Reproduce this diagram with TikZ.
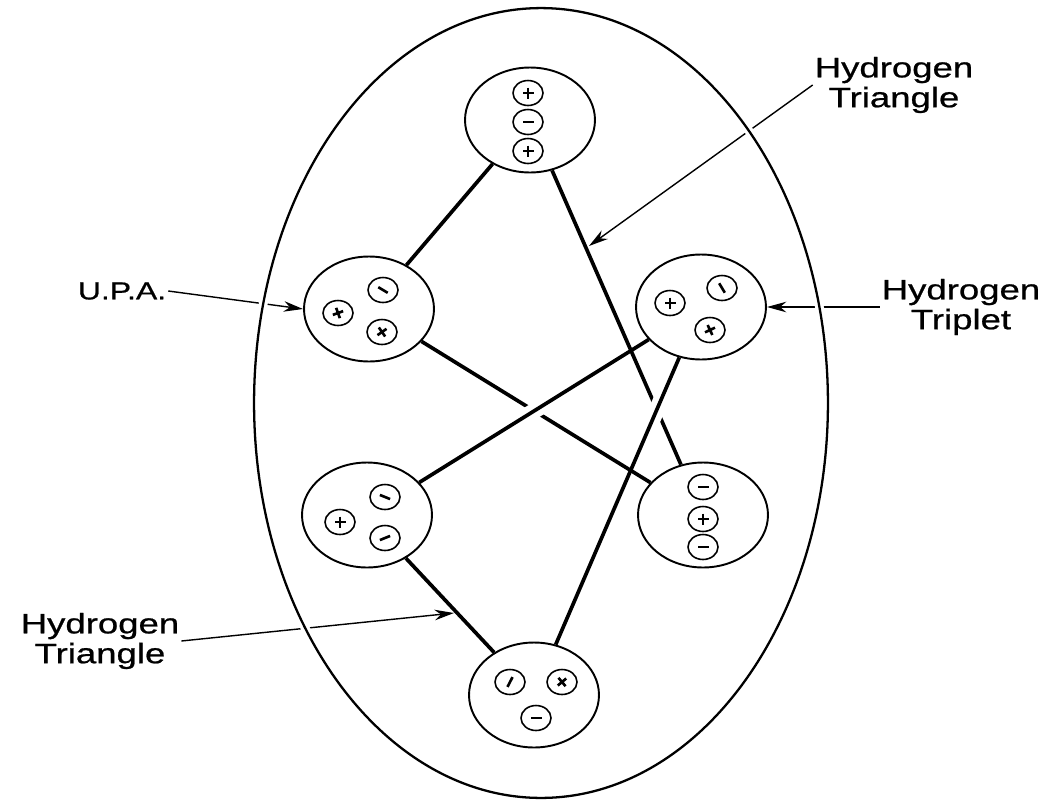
\documentclass[tikz,border=0pt]{standalone}
\usepackage{fontspec}
\newfontfamily\lblfont[FakeStretch=1.3, FakeBold=0.8]{Liberation Sans}
\usetikzlibrary{shapes.geometric,arrows.meta,backgrounds,calc}

\tikzset{
  atom/.style={ellipse, draw, line width=1.1pt, fill=white,
    minimum width=2.6cm, minimum height=2.1cm, inner sep=0pt},
  chg/.style={ellipse, draw, line width=0.9pt,
    minimum width=0.6cm, minimum height=0.5cm, inner sep=0pt},
  sign/.style={line width=1.5pt},
  pchg/.style={chg, path picture={
      \draw[sign] ([shift={(#1:0.11cm)}]path picture bounding box.center)
        -- ([shift={(#1+180:0.11cm)}]path picture bounding box.center);
      \draw[sign] ([shift={(#1+90:0.11cm)}]path picture bounding box.center)
        -- ([shift={(#1+270:0.11cm)}]path picture bounding box.center);}},
  pchg/.default=0,
  nchg/.style={chg, path picture={
      \draw[sign] ([shift={(#1:0.11cm)}]path picture bounding box.center)
        -- ([shift={(#1+180:0.11cm)}]path picture bounding box.center);}},
  nchg/.default=0,
  bond/.style={line width=2.1pt},
  over/.style={draw=white, line width=9pt},
  note/.style={line width=0.8pt, -{Stealth[length=11pt, width=6pt, inset=3.5pt]}},
  lbl/.style={font=\lblfont\fontsize{16}{17}\selectfont, align=center, inner sep=1pt}
}

\begin{document}
\begin{tikzpicture}[x=0.02cm, y=-0.02cm]
\useasboundingbox (0,0) rectangle (1046,802);
% cell wall
\draw[line width=1.3pt, preaction={draw=white, line width=5pt}]
  (541,403) ellipse [x radius=5.74cm, y radius=7.9cm];

\node[atom] (top) at (530,120) {};
\node[atom] (ul) at (369,309) {};
\node[atom] (ur) at (701,307) {};
\node[atom] (ll) at (367,515) {};
\node[atom] (lr) at (703,515) {};
\node[atom] (bot) at (534,695) {};

% charges
\node[pchg] (t1) at (528,93) {};
\node[nchg] (t2) at (528,122) {};
\node[pchg] (t3) at (528,151) {};
\node[nchg=-31] (a1) at (383,290) {};
\node[pchg=20] (a2) at (338,313) {};
\node[pchg=35] (a3) at (382,332) {};
\node[pchg] (b1) at (670,303) {};
\node[nchg=-59] (b2) at (722,288) {};
\node[pchg=25] (b3) at (710,330) {};
\node[nchg=-22] (c1) at (385,497) {};
\node[pchg] (c2) at (340,522) {};
\node[nchg=22] (c3) at (385,538) {};
\node[nchg] (d1) at (703,487) {};
\node[pchg] (d2) at (703,519) {};
\node[nchg] (d3) at (703,547) {};
\node[nchg=63] (e1) at (510,682) {};
\node[pchg=40] (e2) at (562,682) {};
\node[nchg] (e3) at (536,718) {};

\node[lbl] (htop) at (894,85) {Hydrogen\\Triangle};
\node[lbl, font=\lblfont\fontsize{14}{16}\selectfont] (upa) at (122,291) {U.P.A.};
\node[lbl] (htrip) at (961,307) {Hydrogen\\Triplet};
\node[lbl] (hbot) at (100,641) {Hydrogen\\Triangle};
\coordinate (toptip) at (589,246);
\coordinate (bottip) at (454,613);

\begin{scope}[on background layer]
\draw[bond] (top) -- (ul);
\draw[bond] (top) -- (lr);
\draw[bond] (ul) -- (lr);
\draw[bond] (ll.-48) -- (bot);
\draw[over] ($(ur)!0.36!(ll)$) -- ($(ur)!0.64!(ll)$);
\draw[bond] (ur) -- (ll);
\draw[over] ($(ur)!0.2!(bot)$) -- ($(ur)!0.33!(bot)$);
\draw[bond] (ur) -- (bot);
\draw[note] (htop.west) -- (toptip);
\draw[note] (upa.east) -- (ul.west);
\draw[note] (htrip.west) -- (ur.east);
\draw[note] (hbot.east) -- (bottip);
\end{scope}
\end{tikzpicture}
\end{document}
